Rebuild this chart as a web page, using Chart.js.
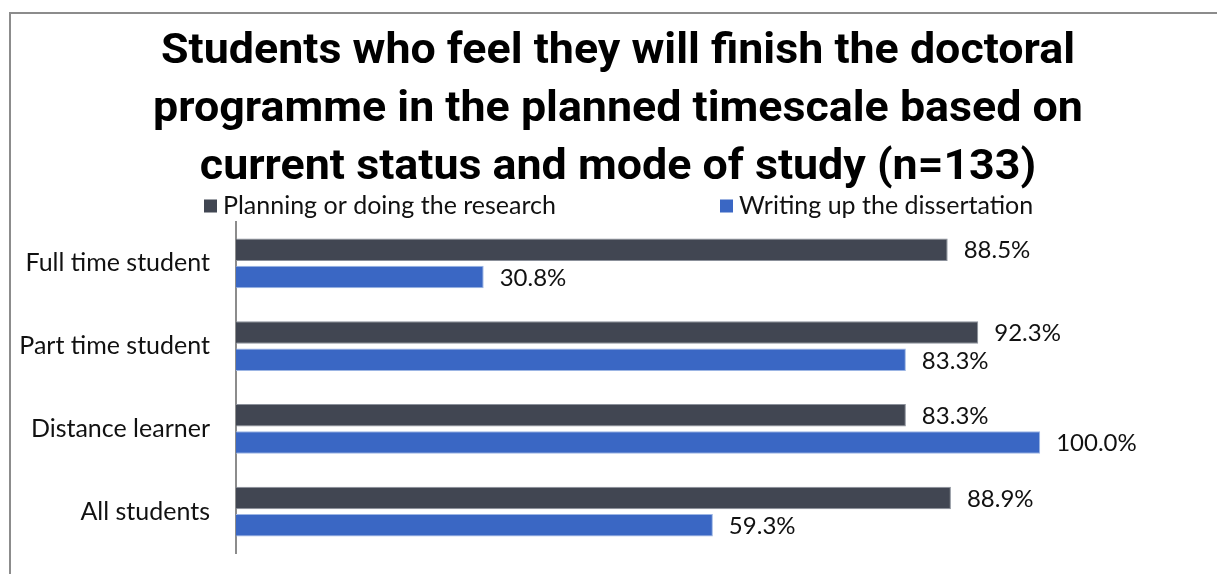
<!DOCTYPE html>
<html>
<head>
<meta charset="utf-8">
<script src="https://cdn.jsdelivr.net/npm/chart.js@4.4.1/dist/chart.umd.min.js"></script>
<style>
  html, body { margin: 0; padding: 0; background: #ffffff; overflow: hidden; }
  #wrap { position: relative; width: 1217px; height: 574px; }
  #frame {
    position: absolute; left: 9px; top: 12px; width: 1400px; height: 800px;
    border-top: 2px solid #8c8c8c; border-left: 2px solid #8c8c8c; box-sizing: border-box;
    pointer-events: none;
  }
  canvas { position: absolute; left: 0; top: 0; }
</style>
</head>
<body>
<div id="wrap">
  <canvas id="chart" width="1217" height="574"></canvas>
  <div id="frame"></div>
</div>
<script>
const categories = ['Full time student', 'Part time student', 'Distance learner', 'All students'];
const seriesNames = ['Planning or doing the research', 'Writing up the dissertation'];
const planningValues = [88.5, 92.3, 83.3, 88.9];
const writingValues = [30.8, 83.3, 100.0, 59.3];
const titleLines = [
  'Students who feel they will finish the doctoral',
  'programme in the planned timescale based on',
  'current status and mode of study (n=133)'
];

const LABEL_FONT = 'Lato, "Open Sans", sans-serif';
const TEXT_COLOR = '#111111';

// Bold title in a condensed setting: the first line is fitted to 914px
// and the same horizontal squeeze is used for every line
const titlePlugin = {
  id: 'narrowTitle',
  afterDraw(chart) {
    const ctx = chart.ctx;
    const cx = 618;
    const baselines = [63, 121, 179];
    ctx.save();
    ctx.font = 'bold 43px Roboto, "Liberation Sans", sans-serif';
    ctx.fillStyle = '#000000';
    ctx.textAlign = 'center';
    ctx.textBaseline = 'alphabetic';
    const squeeze = 914 / ctx.measureText(titleLines[0]).width;
    titleLines.forEach((line, i) => {
      ctx.save();
      ctx.translate(cx, baselines[i]);
      ctx.scale(squeeze, 1);
      ctx.fillText(line, 0, 0);
      ctx.restore();
    });
    ctx.restore();
  }
};

// Legend drawn in the gap between the title and the bars
const legendPlugin = {
  id: 'customLegend',
  afterDraw(chart) {
    const ctx = chart.ctx;
    const xs = [204, 720];
    ctx.save();
    ctx.font = '25px ' + LABEL_FONT;
    ctx.textBaseline = 'middle';
    ctx.textAlign = 'left';
    chart.data.datasets.forEach((ds, i) => {
      const x = xs[i], y = 206;
      ctx.fillStyle = ds.backgroundColor;
      ctx.fillRect(x, y - 6.5, 13, 13);
      ctx.fillStyle = TEXT_COLOR;
      ctx.fillText(ds.label, x + 19, y);
    });
    ctx.restore();
  }
};

// Percentage labels just past the end of each bar
const valueLabelPlugin = {
  id: 'valueLabels',
  afterDatasetsDraw(chart) {
    const ctx = chart.ctx;
    ctx.save();
    ctx.font = '24px ' + LABEL_FONT;
    ctx.textBaseline = 'middle';
    ctx.textAlign = 'left';
    ctx.fillStyle = TEXT_COLOR;
    chart.data.datasets.forEach((ds, di) => {
      chart.getDatasetMeta(di).data.forEach((bar, i) => {
        ctx.fillText(ds.data[i].toFixed(1) + '%', bar.x + 16, bar.y + 1);
      });
    });
    ctx.restore();
  }
};

new Chart(document.getElementById('chart'), {
  type: 'bar',
  data: {
    labels: categories,
    datasets: [
      {
        label: seriesNames[0],
        data: planningValues,
        backgroundColor: '#414652',
        borderColor: '#8b909a',
        borderWidth: 1,
        barPercentage: 0.83,
        categoryPercentage: 0.66
      },
      {
        label: seriesNames[1],
        data: writingValues,
        backgroundColor: '#3a67c4',
        borderColor: '#9cb5e4',
        borderWidth: 1,
        barPercentage: 0.83,
        categoryPercentage: 0.66
      }
    ]
  },
  options: {
    indexAxis: 'y',
    responsive: false,
    animation: false,
    layout: { autoPadding: false, padding: { left: 0, right: 16, top: 222, bottom: 21 } },
    plugins: {
      legend: { display: false },
      tooltip: { enabled: false },
      title: { display: false }
    },
    scales: {
      x: {
        display: false,
        min: 0,
        max: 120
      },
      y: {
        grid: { display: false, drawTicks: false },
        border: { display: true, color: '#8c8c8c', width: 2 },
        ticks: {
          color: TEXT_COLOR,
          padding: 26,
          labelOffset: 0,
          font: { family: LABEL_FONT, size: 25 }
        },
        afterFit(scale) {
          // fixed axis column; labels sit between bar groups, so no overhang padding
          scale.width = 236;
          scale.paddingTop = 0;
          scale.paddingBottom = 0;
        }
      }
    }
  },
  plugins: [titlePlugin, legendPlugin, valueLabelPlugin]
});
</script>
</body>
</html>
